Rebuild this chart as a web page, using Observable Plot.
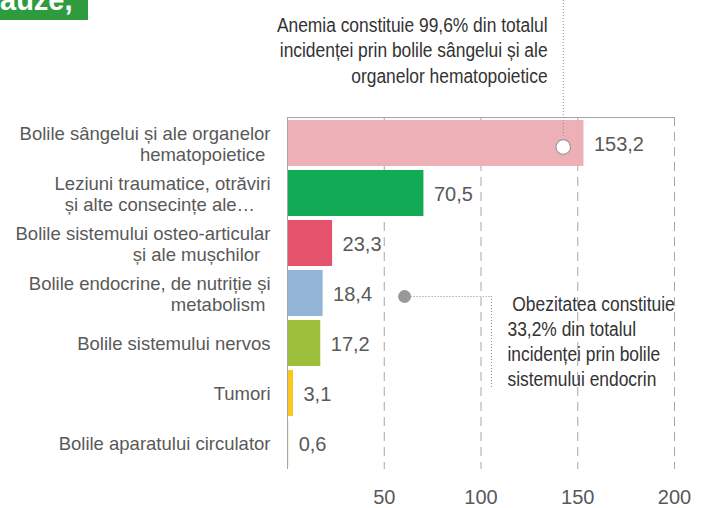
<!DOCTYPE html>
<html>
<head>
<meta charset="utf-8">
<script src="https://cdn.jsdelivr.net/npm/d3@7"></script>
<script src="https://cdn.jsdelivr.net/npm/@observablehq/plot@0.6"></script>
<style>
  html, body { margin: 0; padding: 0; background: #fff; }
  #wrap { position: relative; width: 707px; height: 508px; overflow: hidden; }
  #title { position: absolute; left: 0; top: 0; width: 88px; height: 20px; background: #2f9b3f; overflow: hidden; }
  #title span { position: absolute; left: 0; top: -17px; font: bold 29px "Liberation Sans", Arial, sans-serif; color: #fff; line-height: 34px; white-space: nowrap; }
</style>
</head>
<body>
<div id="wrap">
  <div id="chart"></div>
  <div id="title"><span>auze,</span></div>
</div>
<script>
const categories = [
  "Bolile sângelui și ale organelor\nhematopoietice\u00a0",
  "Leziuni traumatice, otrăviri\nși alte consecințe ale…\u00a0\u00a0\u00a0",
  "Bolile sistemului osteo-articular\nși ale mușchilor\u00a0\u00a0",
  "Bolile endocrine, de nutriție și\nmetabolism\u00a0",
  "Bolile sistemului nervos",
  "Tumori",
  "Bolile aparatului circulator"
];
const values = [153.2, 70.5, 23.3, 18.4, 17.2, 3.1, 0.6];
const colors = ["#edb0b7", "#12aa55", "#e5526b", "#93b4d6", "#9dbe3a", "#f9c81e", "#c8a33b"];
const xTicks = [50, 100, 150, 200];

const noteAnemiaText = "Anemia constituie 99,6% din totalul\nincidenței prin bolile sângelui și ale\norganelor hematopoietice";
const noteAnemiaPoint = 142.5;
const noteAnemiaTextX = 134.4;
const noteObezText = "\u00a0Obezitatea constituie\n33,2% din totalul\nincidenței prin bolile\nsistemului endocrin";
const noteObezPoint = 60.5;
const noteObezLineStart = 63.6;
const noteObezLineEnd = 105.4;
const noteObezTextX = 113.7;

const data = categories.map((c, i) => ({category: c, value: values[i], color: colors[i]}));
const fmt = v => v.toFixed(1).replace(".", ",");

const labelFont = "'Liberation Sans', Arial, sans-serif";

const chart = Plot.plot({
  width: 707,
  height: 508,
  marginLeft: 287,
  marginRight: 33,
  marginTop: 117,
  marginBottom: 39,
  style: {fontFamily: labelFont, background: "transparent"},
  x: {domain: [0, 200], axis: null},
  y: {domain: categories, axis: null, paddingInner: 0.09, paddingOuter: 0.04},
  color: {type: "identity"},
  marks: [
    Plot.ruleX(xTicks, {stroke: "#a6a6a6", strokeWidth: 1, strokeDasharray: "9,6"}),
    Plot.frame({anchor: "top", stroke: "#a6a6a6"}),
    Plot.barX(data, {x: "value", y: "category", fill: "color"}),
    Plot.ruleX([0], {stroke: "#a6a6a6"}),
    Plot.text(data, {x: "value", y: "category", text: d => fmt(d.value), textAnchor: "start", dx: 10, dy: 1, fontSize: 20, fill: "#595959"}),
    Plot.text(data, {x: 0, y: "category", text: "category", textAnchor: "end", dx: -17, fontSize: 18.5, lineHeight: 1.17, fill: "#595959"}),
    Plot.text(xTicks, {x: d => d, frameAnchor: "bottom", dy: 34, fontSize: 20, fill: "#595959"}),
    // Anemia annotation
    Plot.ruleX([noteAnemiaPoint], {stroke: "#8c8c8c", strokeDasharray: "1,2", insetTop: -117, insetBottom: 331}),
    Plot.dot([noteAnemiaPoint], {x: d => d, y: [categories[0]], dy: 3.5, r: 7.3, fill: "#fff", stroke: "#999", strokeWidth: 1.2}),
    Plot.text([noteAnemiaText], {x: [noteAnemiaTextX], y: [categories[0]], text: d => d, dy: -94.4, textAnchor: "end", lineAnchor: "middle", fontSize: 20, lineHeight: 1.275, fill: "#333", ariaDescription: "note"}),
    // Obezitate annotation
    Plot.link([0], {x1: [noteObezLineStart], x2: [noteObezLineEnd], y1: [categories[3]], y2: [categories[3]], dy: 3, stroke: "#8c8c8c", strokeDasharray: "1,2"}),
    Plot.ruleX([noteObezLineEnd], {stroke: "#8c8c8c", strokeDasharray: "1,2", insetTop: 179, insetBottom: 81}),
    Plot.dot([noteObezPoint], {x: d => d, y: [categories[3]], dy: 3, r: 6.5, fill: "#999"}),
    Plot.text([noteObezText], {x: [noteObezTextX], y: [categories[3]], text: d => d, dy: 46.8, textAnchor: "start", lineAnchor: "middle", fontSize: 20, lineHeight: 1.25, fill: "#333", ariaDescription: "note"})
  ]
});
// Annotations use a condensed face in the reference; narrow the glyphs horizontally.
d3.select(chart).selectAll('g[aria-description="note"] text').attr("transform", function() {
  return (this.getAttribute("transform") || "") + " scale(0.87,1)";
});
document.getElementById("chart").appendChild(chart);
</script>
</body>
</html>
